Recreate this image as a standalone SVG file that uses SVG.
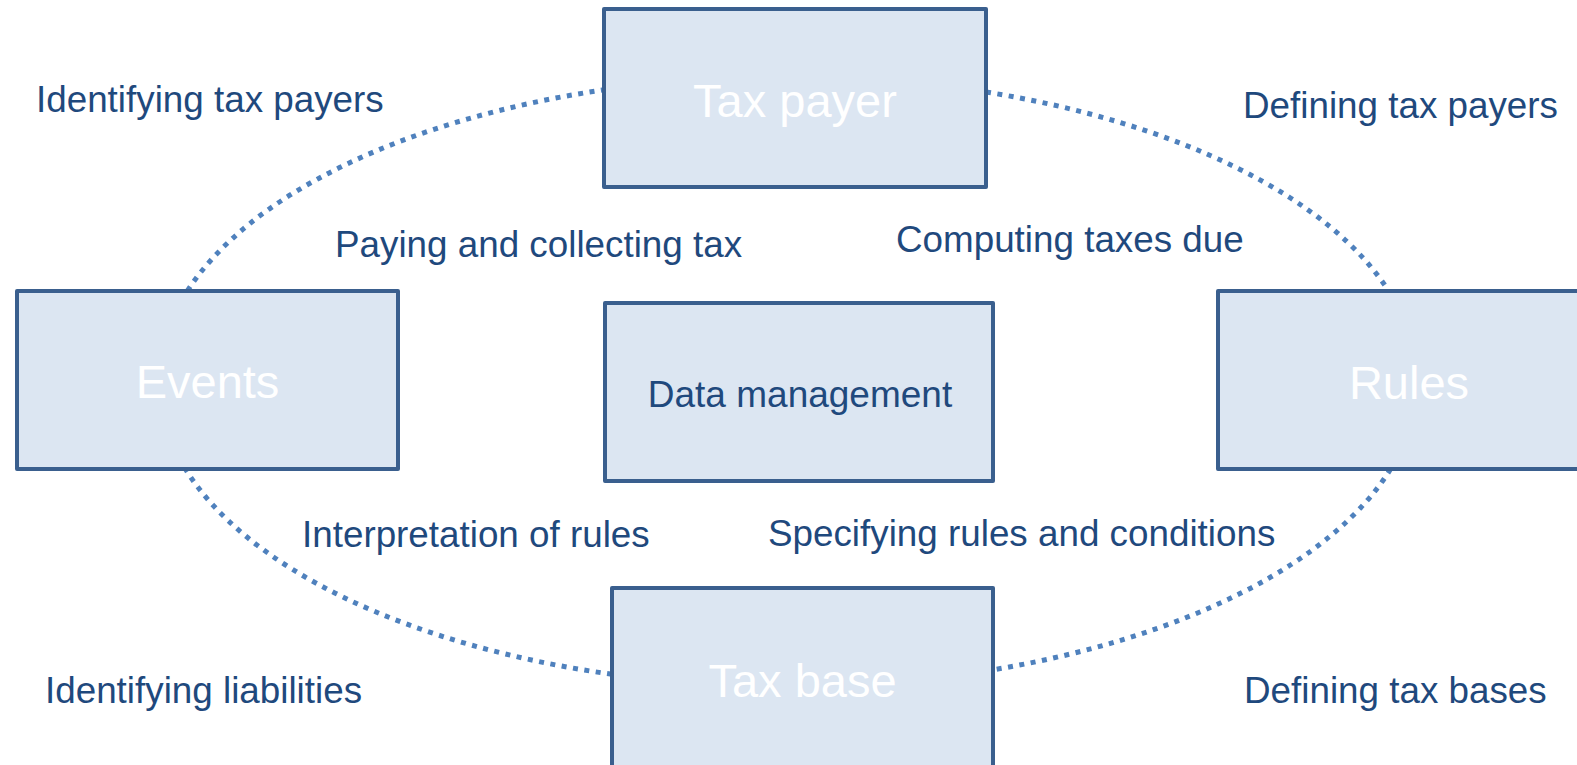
<svg xmlns="http://www.w3.org/2000/svg" width="1577" height="765" viewBox="0 0 1577 765">
  <style>
    .box { fill: #DCE6F2; stroke: #3A5F8E; stroke-width: 4; stroke-linejoin: round; }
    .title { font-family: "Liberation Sans", Arial, sans-serif; font-size: 47px; fill: #FFFFFF; text-anchor: middle; }
    .inner { font-family: "Liberation Sans", Arial, sans-serif; font-size: 37px; fill: #1F497D; text-anchor: middle; }
    .label { font-family: "Liberation Sans", Arial, sans-serif; font-size: 36.8px; fill: #1F497D; }
    .arc { fill: none; stroke: #4F81BD; stroke-width: 5; stroke-dasharray: 5 6.5; }
  </style>
  <rect x="0" y="0" width="1577" height="765" fill="#FFFFFF"/>
  <g id="connectors">
    <path class="arc" d="M187.5 290.7 A629 305 0 0 1 604 89.8"/>
    <path class="arc" d="M986 92 A629 305 0 0 1 1388.5 290.7"/>
    <path class="arc" d="M1390.6 469 A629 305 0 0 1 993 669.8"/>
    <path class="arc" d="M612 674.3 A629 305 0 0 1 185.4 469"/>
  </g>
  <g id="tax-payer">
    <rect class="box" x="604" y="9" width="382" height="178"/>
    <text class="title" x="795" y="117">Tax payer</text>
  </g>
  <g id="events">
    <rect class="box" x="17" y="291" width="381" height="178"/>
    <text class="title" x="207.5" y="398">Events</text>
  </g>
  <g id="data-management">
    <rect class="box" x="605" y="303" width="388" height="178"/>
    <text class="inner" x="800" y="406.5">Data management</text>
  </g>
  <g id="rules">
    <rect class="box" x="1218" y="291" width="382" height="178"/>
    <text class="title" x="1409" y="399">Rules</text>
  </g>
  <g id="tax-base">
    <rect class="box" x="612" y="588" width="381" height="180"/>
    <text class="title" x="802.5" y="697">Tax base</text>
  </g>
  <g id="labels">
    <text class="label" x="36" y="112">Identifying tax payers</text>
    <text class="label" x="1243" y="118">Defining tax payers</text>
    <text class="label" x="335" y="257">Paying and collecting tax</text>
    <text class="label" x="896" y="252">Computing taxes due</text>
    <text class="label" x="302" y="547">Interpretation of rules</text>
    <text class="label" x="768" y="546">Specifying rules and conditions</text>
    <text class="label" x="45" y="703">Identifying liabilities</text>
    <text class="label" x="1244" y="703">Defining tax bases</text>
  </g>
</svg>
